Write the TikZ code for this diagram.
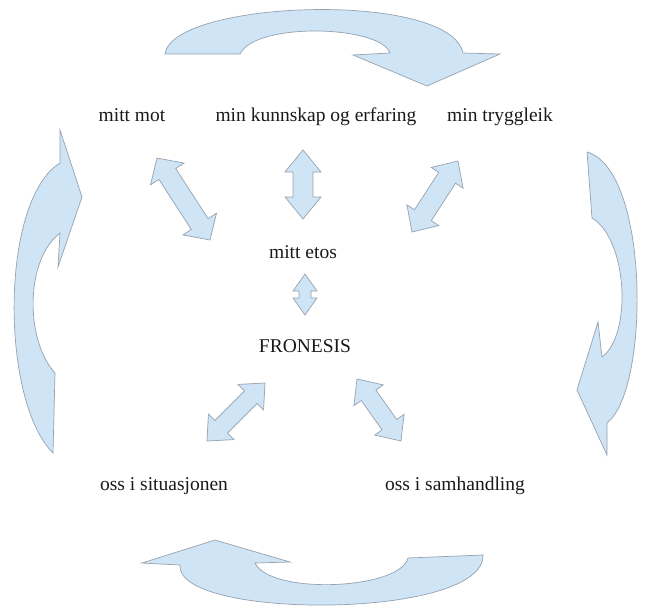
\documentclass[tikz,border=0pt]{standalone}
\usepackage{fontspec}
\setmainfont{Liberation Serif}
\usetikzlibrary{calc}
\definecolor{arrfill}{RGB}{207,228,245}
\definecolor{arrline}{RGB}{150,162,175}
\definecolor{txt}{RGB}{25,25,25}
\tikzset{
  arrshape/.style={fill=arrfill,draw=arrline,line width=0.7pt,line join=miter},
  lbl/.style={text=txt,font=\fontsize{19.5}{23}\selectfont,inner sep=0pt,anchor=base}
}
% #1,#2 tip coordinates, #3 head length, #4 head half-width, #5 shaft half-width
\newcommand\mydblarr[5]{%
  \coordinate (ha) at ($(#1)!#3!(#2)$);
  \coordinate (hb) at ($(#2)!#3!(#1)$);
  \path[arrshape] (#1)
    -- ($(ha)!#4!90:(#2)$) -- ($(ha)!#5!90:(#2)$)
    -- ($(hb)!#5!-90:(#1)$) -- ($(hb)!#4!-90:(#1)$)
    -- (#2)
    -- ($(hb)!#4!90:(#1)$) -- ($(hb)!#5!90:(#1)$)
    -- ($(ha)!#5!-90:(#2)$) -- ($(ha)!#4!-90:(#2)$)
    -- cycle;
}
\begin{document}
\begin{tikzpicture}[x=1pt,y=-1pt]
\useasboundingbox (0,0) rectangle (645,608);

% labels
\node[lbl] (mot) at (132,121) {mitt mot};
\node[lbl] (kunn) at (316,121) {min kunnskap og erfaring};
\node[lbl] (trygg) at (500,121) {min tryggleik};
\node[lbl] (etos) at (303,258) {mitt etos};
\node[lbl] (fron) at (305,352) {FRONESIS};
\node[lbl] (sit) at (164,490) {oss i situasjonen};
\node[lbl] (sam) at (455,490) {oss i samhandling};

% double arrow tips
\coordinate (a1s) at (157,158); \coordinate (a1e) at (210,240);
\coordinate (a2s) at (303,150); \coordinate (a2e) at (303,219);
\coordinate (a3s) at (458,161); \coordinate (a3e) at (412,232);
\coordinate (a4s) at (305,274); \coordinate (a4e) at (305,315);
\coordinate (a5s) at (265,383); \coordinate (a5e) at (207,441);
\coordinate (a6s) at (357,379); \coordinate (a6e) at (401,441);

\mydblarr{a1s}{a1e}{19pt}{20pt}{10pt}
\mydblarr{a2s}{a2e}{22pt}{18pt}{10pt}
\mydblarr{a3s}{a3e}{20pt}{19pt}{10pt}
\mydblarr{a4s}{a4e}{17pt}{12pt}{6pt}
\mydblarr{a5s}{a5e}{20pt}{18pt}{9pt}
\mydblarr{a6s}{a6e}{20pt}{18pt}{9pt}

% top curved arrow
\path[arrshape] (165,54) .. controls (172,0) and (450,-10) .. (463,53)
  -- (500,54) -- (427,86) -- (353,55) -- (390,53)
  .. controls (380,25) and (255,22) .. (240,54) -- cycle;

% right curved arrow
\path[arrshape] (587,152) .. controls (650,170) and (650,390) .. (607,423)
  -- (607,455) -- (577,390) -- (598,322) -- (602,357)
  .. controls (632,335) and (628,240) .. (592,218) -- cycle;

% bottom curved arrow
\path[arrshape] (483,555) .. controls (485,620) and (175,620) .. (180,565)
  -- (142,563) -- (215,540) -- (290,562) -- (255,563)
  .. controls (270,595) and (400,590) .. (408,558) -- cycle;

% left curved arrow
\path[arrshape] (53,453) .. controls (0,400) and (0,200) .. (60,163)
  -- (60,130) -- (82,197) -- (58,267) -- (60,233)
  .. controls (25,260) and (25,340) .. (55,373) -- cycle;
\end{tikzpicture}
\end{document}
